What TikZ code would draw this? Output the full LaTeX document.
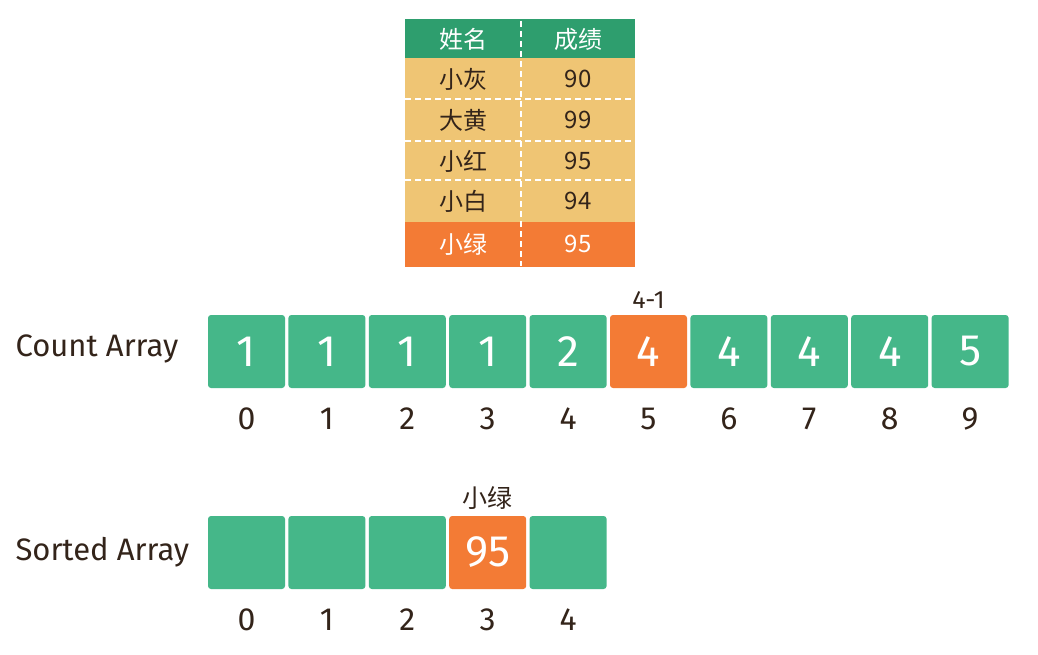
\documentclass[tikz,border=0pt]{standalone}
\usepackage{fontspec}
\setmainfont{Fira Sans}
\newfontfamily\cjk{Noto Sans CJK SC}
\usepackage{xcolor}
\usetikzlibrary{positioning}

\definecolor{cellgreen}{HTML}{45B789}
\definecolor{headgreen}{HTML}{2E9E6E}
\definecolor{hotorange}{HTML}{F37B35}
\definecolor{rowtan}{HTML}{EFC574}
\definecolor{ink}{HTML}{33241A}

\tikzset{
    cell/.style={fill=cellgreen, rounded corners=3pt, minimum width=77pt,
        minimum height=73pt, inner sep=0pt, text=white, font=\fontsize{44}{44}\selectfont},
    hotcell/.style={cell, fill=hotorange},
    idx/.style={text=ink, font=\fontsize{32}{32}\selectfont},
    rowlabel/.style={text=ink, font=\fontsize{31}{31}\selectfont, anchor=west},
    tabrow/.style={minimum width=230pt, inner sep=0pt, anchor=north west},
    tabtext/.style={font=\cjk\fontsize{24}{24}\selectfont},
    sep/.style={white, line width=1.2pt, dash pattern=on 6pt off 4pt}
}

\begin{document}
\begin{tikzpicture}[x=1pt, y=-1pt]
    \useasboundingbox[fill=white] (0,0) rectangle (1038,655);

    % table of names and scores
    \node[tabrow, fill=headgreen, minimum height=39pt] (head) at (405,19) {};
    \node[tabrow, fill=rowtan, minimum height=164pt] (rows) at (405,58) {};
    \node[tabrow, fill=hotorange, minimum height=45pt] (last) at (405,222) {};

    \draw[sep] (405,99) -- (635,99);
    \draw[sep] (405,141) -- (635,141);
    \draw[sep] (405,180) -- (635,180);
    \draw[sep] (521,21) -- (521,266);

    \node[tabtext, text=white] (hname) at (463,39) {姓名};
    \node[tabtext, text=white] (hscore) at (578,39) {成绩};
    \node[tabtext, text=ink] (n1) at (463,79) {小灰};
    \node[tabtext, text=ink] (s1) at (578,79) {90};
    \node[tabtext, text=ink] (n2) at (463,120) {大黄};
    \node[tabtext, text=ink] (s2) at (578,120) {99};
    \node[tabtext, text=ink] (n3) at (463,161) {小红};
    \node[tabtext, text=ink] (s3) at (578,161) {95};
    \node[tabtext, text=ink] (n4) at (463,201) {小白};
    \node[tabtext, text=ink] (s4) at (578,201) {94};
    \node[tabtext, text=white] (n5) at (463,244) {小绿};
    \node[tabtext, text=white] (s5) at (578,244) {95};

    % count array
    \node[rowlabel] (countlabel) at (12,349) {Count Array};
    \node[cell] (c0) at (246.5,351.5) {1};
    \node[cell, right=3pt of c0] (c1) {1};
    \node[cell, right=3pt of c1] (c2) {1};
    \node[cell, right=3pt of c2] (c3) {1};
    \node[cell, right=3pt of c3] (c4) {2};
    \node[hotcell, right=3pt of c4] (c5) {4};
    \node[cell, right=3pt of c5] (c6) {4};
    \node[cell, right=3pt of c6] (c7) {4};
    \node[cell, right=3pt of c7] (c8) {4};
    \node[cell, right=3pt of c8] (c9) {5};
    \node[text=ink, font=\fontsize{25}{25}\selectfont, above=3pt of c5] (minus) {4-1};
    \foreach \i in {0,...,9}
        \node[idx, below=16pt of c\i] (ci\i) {\i};

    % sorted array
    \node[rowlabel] (sortlabel) at (12,552) {Sorted Array};
    \node[cell] (s0) at (246.5,552.5) {};
    \node[cell, right=3pt of s0] (s1) {};
    \node[cell, right=3pt of s1] (s2) {};
    \node[hotcell, right=3pt of s2] (s3) {95};
    \node[cell, right=3pt of s3] (s4) {};
    \node[text=ink, font=\cjk\fontsize{25}{25}\selectfont, above=3pt of s3] (green) {小绿};
    \foreach \i in {0,...,4}
        \node[idx, below=16pt of s\i] (si\i) {\i};
\end{tikzpicture}
\end{document}
